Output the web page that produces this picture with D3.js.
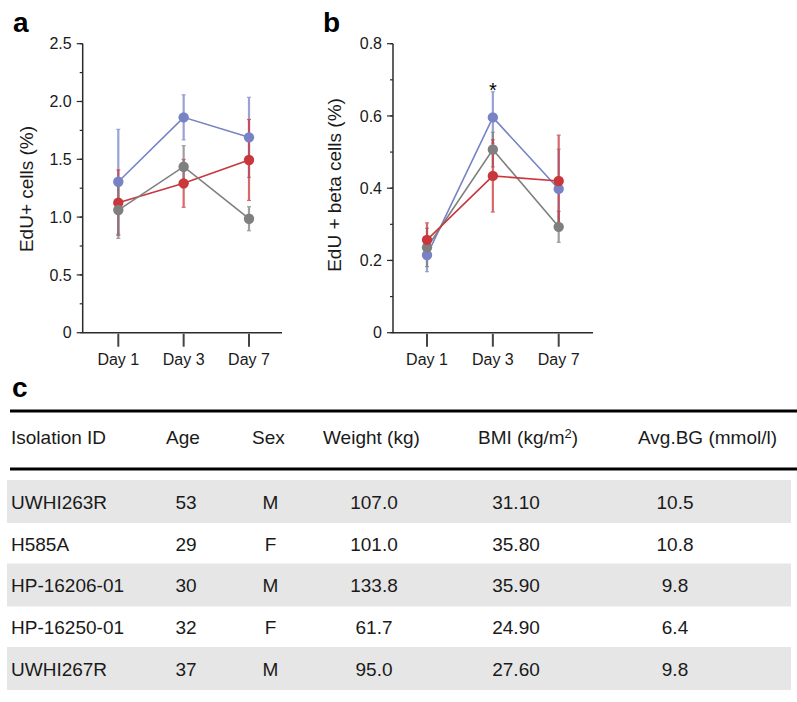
<!DOCTYPE html>
<html><head><meta charset="utf-8">
<script src="https://cdn.jsdelivr.net/npm/d3@7"></script>
<style>
html,body{margin:0;padding:0;background:#fff;}
svg{display:block;font-family:Arial,"Liberation Sans",sans-serif;}
</style></head>
<body>
<svg id="fig" width="797" height="702"></svg>
<script>
// ---------- DATA ----------
const days = ["Day 1", "Day 3", "Day 7"];
const groupNames = ["Group A", "Group B", "Group C"];
const groupColors = ["#7783c4", "#c9373c", "#7f7f7f"];

// Panel a: EdU+ cells (%)
const aMeanA = [1.306, 1.863, 1.690];
const aSemA  = [0.453, 0.195, 0.346];
const aMeanB = [1.125, 1.292, 1.494];
const aSemB  = [0.283, 0.207, 0.350];
const aMeanC = [1.061, 1.436, 0.986];
const aSemC  = [0.245, 0.182, 0.104];
const aTicks = [0, 0.5, 1.0, 1.5, 2.0, 2.5];
const aTickLabels = ["0", "0.5", "1.0", "1.5", "2.0", "2.5"];

// Panel b: EdU + beta cells (%)
const bMeanA = [0.215, 0.596, 0.398];
const bSemA  = [0.046, 0.071, 0.110];
const bMeanB = [0.257, 0.434, 0.420];
const bSemB  = [0.047, 0.100, 0.127];
const bMeanC = [0.236, 0.507, 0.293];
const bSemC  = [0.053, 0.048, 0.043];
const bTicks = [0, 0.2, 0.4, 0.6, 0.8];
const bTickLabels = ["0", "0.2", "0.4", "0.6", "0.8"];
const bSignif = ["", "*", ""];

// Panel c: donor table
const tableHeaders = ["Isolation ID", "Age", "Sex", "Weight (kg)", "BMI (kg/m2)", "Avg.BG (mmol/l)"];
const isolationIds = ["UWHI263R", "H585A", "HP-16206-01", "HP-16250-01", "UWHI267R"];
const ages = ["53", "29", "30", "32", "37"];
const sexes = ["M", "F", "M", "F", "M"];
const weights = ["107.0", "101.0", "133.8", "61.7", "95.0"];
const bmis = ["31.10", "35.80", "35.90", "24.90", "27.60"];
const avgBGs = ["10.5", "10.8", "9.8", "6.4", "9.8"];

// ---------- DRAW ----------
const svg = d3.select("#fig");
svg.append("rect").attr("width", 797).attr("height", 702).attr("fill", "#fff");
const axisColor = "#2b2b2b";
const textColor = "#1a1a1a";

function panel(opts) {
  const g = svg.append("g");
  const y = d3.scaleLinear().domain(opts.domain).range([332.7, 43.7]);
  const x = d3.scalePoint().domain(days).range(opts.xRange);

  const minor = d3.range(opts.domain[0], opts.domain[1] + 1e-9, opts.minorStep);
  g.selectAll(".minor").data(minor).join("line")
    .attr("x1", opts.axisX - 3).attr("x2", opts.axisX)
    .attr("y1", d => y(d)).attr("y2", d => y(d))
    .attr("stroke", axisColor).attr("stroke-width", 1.2);
  g.selectAll(".major").data(opts.ticks).join("line")
    .attr("x1", opts.axisX - 6).attr("x2", opts.axisX)
    .attr("y1", d => y(d)).attr("y2", d => y(d))
    .attr("stroke", axisColor).attr("stroke-width", 1.2);
  g.selectAll(".tl").data(opts.ticks).join("text")
    .attr("x", opts.axisX - 11).attr("y", d => y(d)).attr("dy", "0.36em")
    .attr("text-anchor", "end").attr("font-size", 16).attr("fill", textColor)
    .text((d, i) => opts.tickLabels[i]);
  g.append("line").attr("x1", opts.axisX).attr("x2", opts.axisX)
    .attr("y1", y(opts.domain[1])).attr("y2", y(0) + 0.6)
    .attr("stroke", axisColor).attr("stroke-width", 1.5);
  g.append("line").attr("x1", opts.axisX).attr("x2", opts.axisEnd)
    .attr("y1", y(0)).attr("y2", y(0))
    .attr("stroke", axisColor).attr("stroke-width", 1.5);
  g.selectAll(".xt").data(days).join("line")
    .attr("x1", d => x(d)).attr("x2", d => x(d))
    .attr("y1", y(0) + 1).attr("y2", y(0) + 14)
    .attr("stroke", "#444").attr("stroke-width", 2);
  g.selectAll(".xl").data(days).join("text")
    .attr("x", d => x(d)).attr("y", 365)
    .attr("text-anchor", "middle").attr("font-size", 16).attr("fill", textColor)
    .text(d => d);
  g.append("text")
    .attr("transform", `translate(${opts.titleX},${opts.titleY}) rotate(-90)`)
    .attr("text-anchor", "middle").attr("dy", "0.35em")
    .attr("font-size", 19).attr("fill", textColor).text(opts.title);
  g.append("text").attr("x", opts.letterX).attr("y", 32)
    .attr("font-size", 28).attr("font-weight", "bold").attr("fill", "#000")
    .text(opts.letter);

  const line = d3.line().x((d, i) => x(days[i])).y(d => y(d));
  const order = opts.order;
  order.forEach(k => {
    const s = opts.series[k];
    const eg = g.append("g").attr("stroke", groupColors[k]).attr("opacity", 0.75);
    days.forEach((dd, i) => {
      const lo = y(s.mean[i] - s.sem[i]), hi = y(s.mean[i] + s.sem[i]);
      eg.append("line").attr("x1", x(dd)).attr("x2", x(dd)).attr("y1", lo).attr("y2", hi)
        .attr("stroke-width", 2.2);
      [lo, hi].forEach(v => eg.append("line").attr("x1", x(dd) - 2).attr("x2", x(dd) + 2)
        .attr("y1", v).attr("y2", v).attr("stroke-width", 1.2));
    });
  });
  order.forEach(k => {
    const s = opts.series[k];
    g.append("path").datum(s.mean).attr("d", line)
      .attr("fill", "none").attr("stroke", groupColors[k]).attr("stroke-width", 1.6);
  });
  order.forEach(k => {
    const s = opts.series[k];
    g.selectAll(null).data(s.mean).join("circle")
      .attr("cx", (d, i) => x(days[i])).attr("cy", d => y(d)).attr("r", 5.2)
      .attr("fill", groupColors[k]);
  });
  if (opts.signif) {
    const s = opts.series[0];
    g.selectAll(null).data(opts.signif).join("text")
      .attr("x", (d, i) => x(days[i]))
      .attr("y", (d, i) => y(s.mean[i] + s.sem[i]) + 5)
      .attr("text-anchor", "middle").attr("font-size", 20).attr("fill", "#000")
      .text(d => d);
  }
}

panel({
  domain: [0, 2.5], ticks: aTicks, tickLabels: aTickLabels, minorStep: 0.25,
  axisX: 82.7, axisEnd: 282, xRange: [118.3, 249],
  title: "EdU+ cells (%)", titleX: 26, titleY: 189, letter: "a", letterX: 13,
  series: [{mean: aMeanA, sem: aSemA}, {mean: aMeanB, sem: aSemB}, {mean: aMeanC, sem: aSemC}],
  order: [0, 1, 2]
});
panel({
  domain: [0, 0.8], ticks: bTicks, tickLabels: bTickLabels, minorStep: 0.1,
  axisX: 393, axisEnd: 593, xRange: [427, 558.7],
  title: "EdU + beta cells (%)", titleX: 334, titleY: 185, letter: "b", letterX: 323,
  series: [{mean: bMeanA, sem: bSemA}, {mean: bMeanB, sem: bSemB}, {mean: bMeanC, sem: bSemC}],
  order: [0, 2, 1], signif: bSignif
});

// ---------- TABLE ----------
const tg = svg.append("g");
const tfs = 19;
tg.append("text").attr("x", 12).attr("y", 397).attr("font-size", 28)
  .attr("font-weight", "bold").attr("fill", "#000").text("c");
tg.append("line").attr("x1", 10).attr("x2", 797).attr("y1", 411).attr("y2", 411)
  .attr("stroke", "#000").attr("stroke-width", 3);
tg.append("line").attr("x1", 10).attr("x2", 797).attr("y1", 469).attr("y2", 469)
  .attr("stroke", "#000").attr("stroke-width", 3);

const headerX = [11, 166, 252, 323, 478, 638];
const hdr = tg.selectAll(".hdr").data(tableHeaders).join("text")
  .attr("x", (d, i) => headerX[i]).attr("y", 444)
  .attr("font-size", tfs).attr("fill", textColor);
hdr.each(function(d) {
  const t = d3.select(this);
  if (d === "BMI (kg/m2)") {
    t.append("tspan").text("BMI (kg/m");
    t.append("tspan").attr("font-size", 13).attr("dy", -6).text("2");
    t.append("tspan").attr("dy", 6).text(")");
  } else t.text(d);
});

const rowY = d3.scalePoint().domain(isolationIds).range([502, 669]);
tg.selectAll(".band").data(isolationIds.filter((d, i) => i % 2 === 0)).join("rect")
  .attr("x", 7).attr("width", 784)
  .attr("y", d => rowY(d) - 22).attr("height", 43)
  .attr("fill", "#e6e6e6");

const columns = [
  {vals: isolationIds, x: 11, anchor: "start"},
  {vals: ages, x: 186, anchor: "middle"},
  {vals: sexes, x: 270.5, anchor: "middle"},
  {vals: weights, x: 374, anchor: "middle"},
  {vals: bmis, x: 516, anchor: "middle"},
  {vals: avgBGs, x: 675, anchor: "middle"}
];
columns.forEach(c => {
  tg.selectAll(null).data(c.vals).join("text")
    .attr("x", c.x).attr("y", (d, i) => rowY(isolationIds[i]))
    .attr("dy", "0.36em").attr("text-anchor", c.anchor)
    .attr("font-size", tfs).attr("fill", textColor).text(d => d);
});
</script>
</body></html>
